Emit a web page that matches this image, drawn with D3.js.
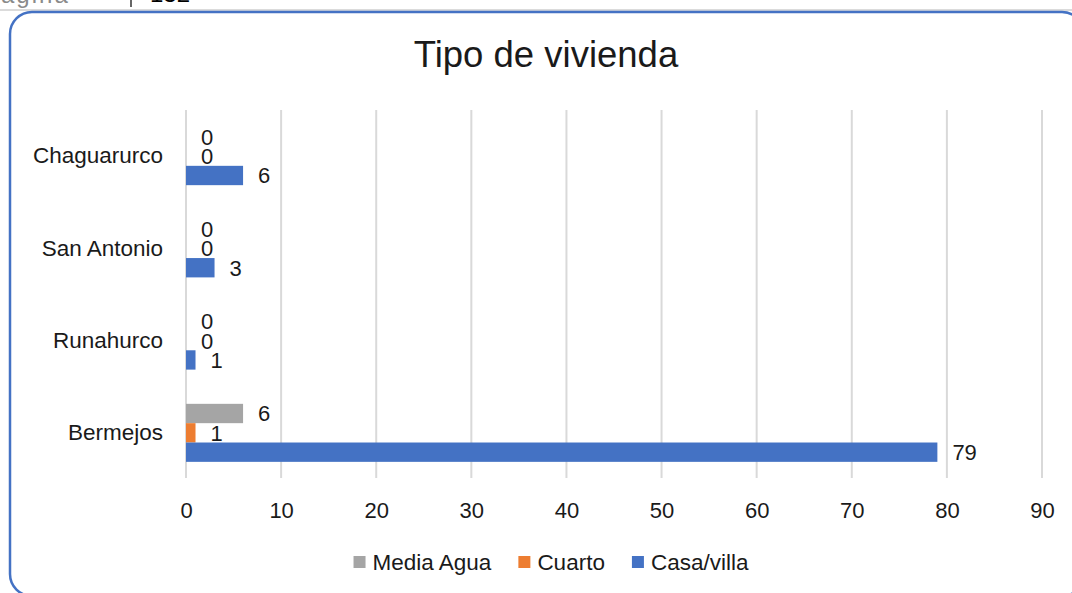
<!DOCTYPE html>
<html>
<head>
<meta charset="utf-8">
<script src="https://cdn.jsdelivr.net/npm/d3@7"></script>
<style>
  html, body { margin: 0; padding: 0; background: #fff; }
  svg { display: block; }
  text { font-family: "Liberation Sans", Arial, sans-serif; fill: #1a1a1a; }
</style>
</head>
<body>
<svg id="chart" width="1072" height="593"></svg>
<script>
// Housing type counts per community
const categories = ["Chaguarurco", "San Antonio", "Runahurco", "Bermejos"];
const seriesNames = ["Media Agua", "Cuarto", "Casa/villa"];
const mediaAgua = [0, 0, 0, 6];
const cuarto = [0, 0, 0, 1];
const casaVilla = [6, 3, 1, 79];
const xTicks = [0, 10, 20, 30, 40, 50, 60, 70, 80, 90];
const colors = ["#A5A5A5", "#ED7D31", "#4472C4"];

const seriesValues = [mediaAgua, cuarto, casaVilla];
const rows = categories.map((c, i) => ({
  category: c,
  values: seriesNames.map((s, k) => ({ series: s, value: seriesValues[k][i] }))
}));

const svg = d3.select("#chart");
const W = 1072, H = 593;
svg.append("rect").attr("width", W).attr("height", H).attr("fill", "#fff");

// Page header strip
svg.append("line")
  .attr("x1", 0).attr("x2", W).attr("y1", 10).attr("y2", 10)
  .attr("stroke", "#cfcfcf").attr("stroke-width", 1.5);
svg.append("text").attr("x", -17).attr("y", 3)
  .style("font-size", "24px").style("fill", "#8a8a8a").style("letter-spacing", "2px")
  .text("Página");
svg.append("line")
  .attr("x1", 131).attr("x2", 131).attr("y1", 0).attr("y2", 7)
  .attr("stroke", "#333").attr("stroke-width", 1.5);
svg.append("text").attr("x", 150).attr("y", 2)
  .style("font-size", "24px").style("fill", "#000")
  .text("132");

// Chart frame
svg.append("rect")
  .attr("x", 10).attr("y", 12).attr("width", 1074).attr("height", 584)
  .attr("rx", 22).attr("ry", 22)
  .attr("fill", "none").attr("stroke", "#4472C4").attr("stroke-width", 2.5);

// Title
svg.append("text")
  .attr("x", 546).attr("y", 67).attr("text-anchor", "middle")
  .style("font-size", "36.5px")
  .text("Tipo de vivienda");

// Scales
const x = d3.scaleLinear().domain([0, 90]).range([186, 1042]);
const y = d3.scaleBand().domain(categories).range([110, 479])
  .paddingInner(0.371).paddingOuter(0.186);
const yInner = d3.scaleBand().domain(seriesNames).range([0, y.bandwidth()]).padding(0);
const color = d3.scaleOrdinal().domain(seriesNames).range(colors);

// Vertical gridlines
svg.append("g").selectAll("line").data(xTicks).join("line")
  .attr("x1", d => x(d)).attr("x2", d => x(d))
  .attr("y1", 110).attr("y2", 478)
  .attr("stroke", "#d9d9d9").attr("stroke-width", 2);

// X axis tick labels
const xAxis = d3.axisBottom(x).tickValues(xTicks).tickSize(0).tickPadding(0);
const gx = svg.append("g").attr("transform", "translate(0,502)").call(xAxis);
gx.select(".domain").remove();
gx.selectAll("text")
  .attr("dy", "0.71em")
  .style("font-size", "22px").style("fill", "#1a1a1a")
  .style("font-family", "'Liberation Sans', Arial, sans-serif");

// Category labels
const yAxis = d3.axisLeft(y).tickSize(0).tickPadding(0);
const gy = svg.append("g").attr("transform", "translate(163,0)").call(yAxis);
gy.select(".domain").remove();
gy.selectAll("text")
  .style("font-size", "22.5px").style("fill", "#1a1a1a")
  .style("font-family", "'Liberation Sans', Arial, sans-serif");

// Bars and value labels
const groups = svg.append("g").selectAll("g").data(rows).join("g")
  .attr("transform", d => `translate(0,${y(d.category)})`);

groups.selectAll("rect").data(d => d.values).join("rect")
  .attr("x", x(0))
  .attr("y", d => yInner(d.series))
  .attr("width", d => x(d.value) - x(0))
  .attr("height", yInner.bandwidth())
  .attr("fill", d => color(d.series));

groups.selectAll("text").data(d => d.values).join("text")
  .attr("x", d => x(d.value) + 15)
  .attr("y", d => yInner(d.series) + yInner.bandwidth() / 2)
  .attr("dy", "0.36em")
  .style("font-size", "22px")
  .text(d => d.value);

// Legend
const legend = svg.append("g");
const items = legend.selectAll("g").data(seriesNames).join("g");
items.append("rect").attr("width", 12).attr("height", 12).attr("y", -6)
  .attr("fill", d => color(d));
items.append("text").attr("x", 19).attr("dy", "0.36em")
  .style("font-size", "22.5px").text(d => d);
const gap = 27;
const widths = items.nodes().map(n => 19 + n.querySelector("text").getComputedTextLength());
const total = d3.sum(widths) + gap * (widths.length - 1);
let cursor = 551 - total / 2;
items.attr("transform", (d, i) => {
  const t = `translate(${cursor},562)`;
  cursor += widths[i] + gap;
  return t;
});
</script>
</body>
</html>
